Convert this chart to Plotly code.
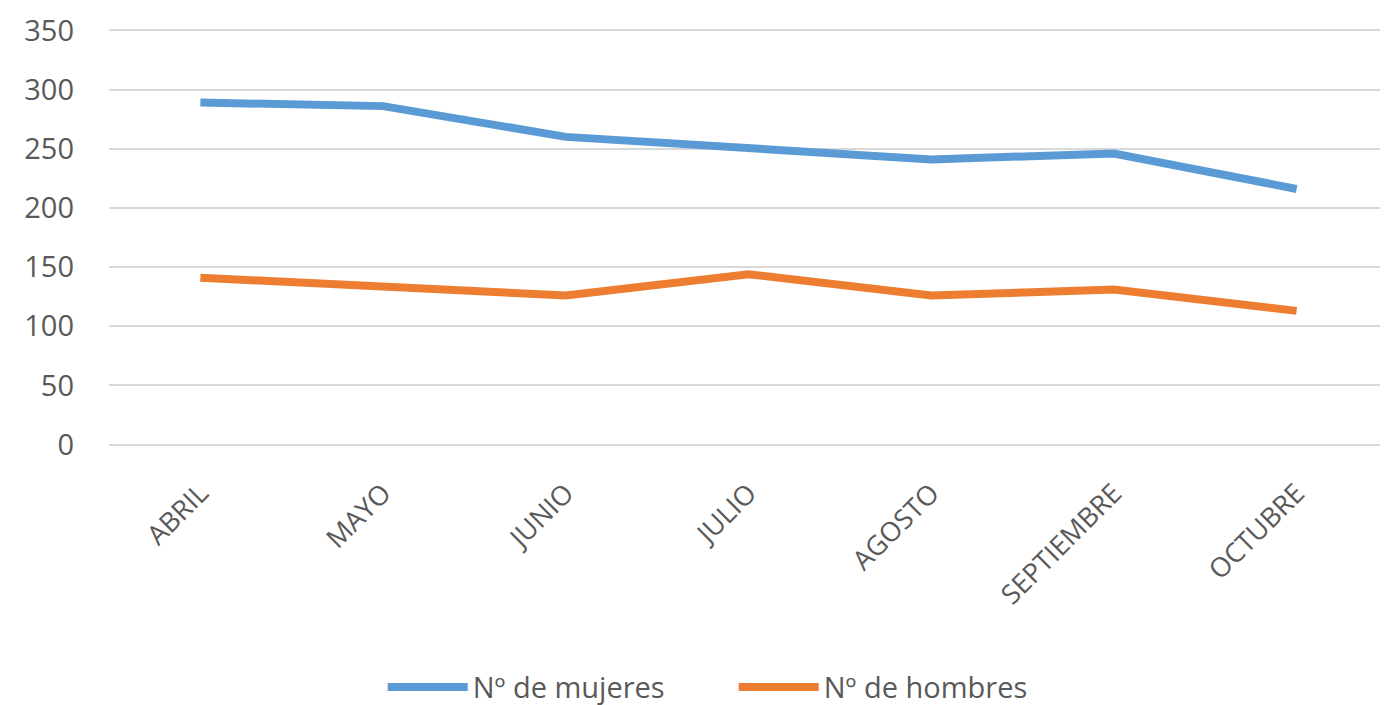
import plotly.graph_objects as go

months = ["ABRIL", "MAYO", "JUNIO", "JULIO", "AGOSTO", "SEPTIEMBRE", "OCTUBRE"]
mujeres = [289, 286, 260, 251, 241, 246, 216]
hombres = [141, 133, 126, 144, 126, 131, 113]
y_ticks = [0, 50, 100, 150, 200, 250, 300, 350]

FONT = "Open Sans, Liberation Sans, Arial"
TXT = "#595959"

fig = go.Figure()
fig.add_trace(go.Scatter(x=months, y=mujeres, mode="lines", name="Nº de mujeres",
                         line=dict(color="#5B9BD5", width=8)))
fig.add_trace(go.Scatter(x=months, y=hombres, mode="lines", name="Nº de hombres",
                         line=dict(color="#ED7D31", width=8)))

fig.update_layout(
    width=1380, height=705,
    margin=dict(l=101, r=0, t=20, b=266),
    plot_bgcolor="white", paper_bgcolor="white",
    font=dict(family=FONT, color=TXT, size=28),
    showlegend=True,
    legend=dict(orientation="h", x=0.214, y=-0.573, xanchor="left", yanchor="middle",
                font=dict(size=29, color=TXT), itemwidth=80, entrywidth=256,
                entrywidthmode="pixels", traceorder="normal"),
)
fig.update_xaxes(showgrid=False, showline=False, zeroline=False, tickangle=-45,
                 tickfont=dict(size=27, color=TXT), ticks="", ticklen=0,
                 range=[-0.5, 6.5], automargin=False, ticklabelstandoff=24)
fig.update_yaxes(range=[-2, 352], tickvals=y_ticks, showgrid=True, gridcolor="#D9D9D9",
                 gridwidth=2, zeroline=False, showline=False, automargin=False,
                 tickfont=dict(size=29, color=TXT), ticklabelstandoff=34)

fig.write_html("out.html")
